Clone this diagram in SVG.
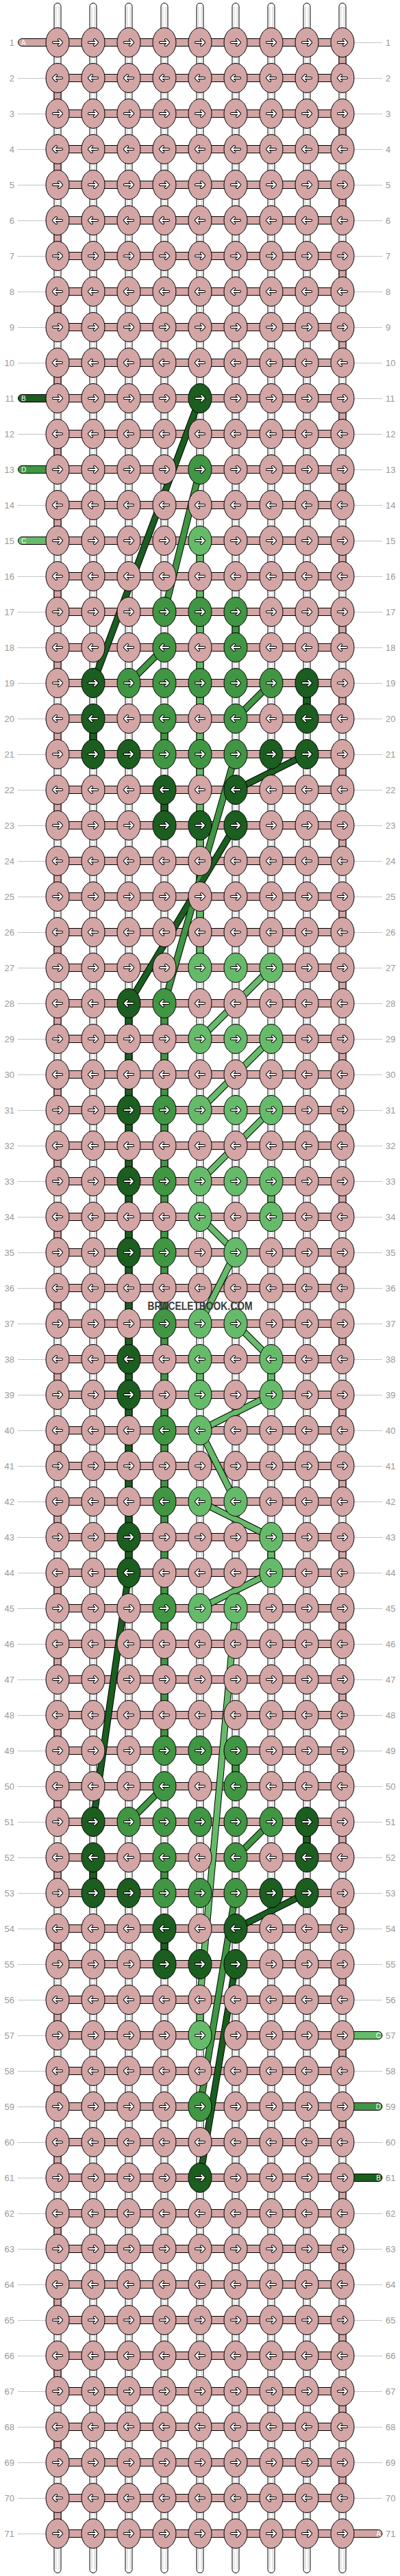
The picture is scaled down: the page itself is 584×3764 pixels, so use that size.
<svg xmlns="http://www.w3.org/2000/svg" width="584" height="3764" viewBox="0 0 584 3764">
<style>
.p{fill:#d4a5a5}.d{fill:#1b5e20}.m{fill:#409643}.l{fill:#66bb6a}
text.n{font-family:"Liberation Sans",Arial,sans-serif;font-size:13px;fill:#999}
text.s{font-family:"Liberation Sans",Arial,sans-serif;font-size:10px;fill:#fff}
.nl{text-anchor:end}
</style>
<defs>
<ellipse id="e" rx="17" ry="21.5" stroke="#000" stroke-width="1"/>
<path id="ah" d="M-6,0H6M2,-4L6,0L2,4"/>
<g id="R"><use href="#e"/><use href="#ah" fill="none" stroke="#000" stroke-width="4" stroke-linecap="round" stroke-linejoin="round"/><use href="#ah" fill="none" stroke="#fff" stroke-width="2" stroke-linecap="round" stroke-linejoin="round"/></g>
<g id="L"><use href="#e"/><g transform="scale(-1,1)"><use href="#ah" fill="none" stroke="#000" stroke-width="4" stroke-linecap="round" stroke-linejoin="round"/><use href="#ah" fill="none" stroke="#fff" stroke-width="2" stroke-linecap="round" stroke-linejoin="round"/></g></g>
<rect id="c" x="-5" y="18" width="10" height="16" stroke="#000" stroke-width="1"/>
<rect id="hb" x="84" y="-5.5" width="416" height="11" fill="#d4a5a5" stroke="#000" stroke-width="1"/>
</defs>
<rect width="584" height="3764" fill="#fff"/>
<g id="guides" stroke="#c4c4c4" stroke-width="1" fill="none">
<path d="M26,114.5H67M26,166.5H67M26,218.5H67M26,270.5H67M26,322.5H67M26,374.5H67M26,426.5H67M26,478.5H67M26,530.5H67M26,634.5H67M26,738.5H67M26,842.5H67M26,894.5H67M26,946.5H67M26,998.5H67M26,1050.5H67M26,1102.5H67M26,1154.5H67M26,1206.5H67M26,1258.5H67M26,1310.5H67M26,1362.5H67M26,1414.5H67M26,1466.5H67M26,1518.5H67M26,1570.5H67M26,1622.5H67M26,1674.5H67M26,1726.5H67M26,1778.5H67M26,1830.5H67M26,1882.5H67M26,1934.5H67M26,1986.5H67M26,2038.5H67M26,2090.5H67M26,2142.5H67M26,2194.5H67M26,2246.5H67M26,2298.5H67M26,2350.5H67M26,2402.5H67M26,2454.5H67M26,2506.5H67M26,2558.5H67M26,2610.5H67M26,2662.5H67M26,2714.5H67M26,2766.5H67M26,2818.5H67M26,2870.5H67M26,2922.5H67M26,2974.5H67M26,3026.5H67M26,3078.5H67M26,3130.5H67M26,3182.5H67M26,3234.5H67M26,3286.5H67M26,3338.5H67M26,3390.5H67M26,3442.5H67M26,3494.5H67M26,3546.5H67M26,3598.5H67M26,3650.5H67M26,3702.5H67"/>
<path d="M517,62.5H558M517,114.5H558M517,166.5H558M517,218.5H558M517,270.5H558M517,322.5H558M517,374.5H558M517,426.5H558M517,478.5H558M517,530.5H558M517,582.5H558M517,634.5H558M517,686.5H558M517,738.5H558M517,790.5H558M517,842.5H558M517,894.5H558M517,946.5H558M517,998.5H558M517,1050.5H558M517,1102.5H558M517,1154.5H558M517,1206.5H558M517,1258.5H558M517,1310.5H558M517,1362.5H558M517,1414.5H558M517,1466.5H558M517,1518.5H558M517,1570.5H558M517,1622.5H558M517,1674.5H558M517,1726.5H558M517,1778.5H558M517,1830.5H558M517,1882.5H558M517,1934.5H558M517,1986.5H558M517,2038.5H558M517,2090.5H558M517,2142.5H558M517,2194.5H558M517,2246.5H558M517,2298.5H558M517,2350.5H558M517,2402.5H558M517,2454.5H558M517,2506.5H558M517,2558.5H558M517,2610.5H558M517,2662.5H558M517,2714.5H558M517,2766.5H558M517,2818.5H558M517,2870.5H558M517,2922.5H558M517,3026.5H558M517,3130.5H558M517,3234.5H558M517,3286.5H558M517,3338.5H558M517,3390.5H558M517,3442.5H558M517,3494.5H558M517,3546.5H558M517,3598.5H558M517,3650.5H558"/>
</g>
<g id="labels-left" class="lab">
<text class="n nl" x="21" y="66.5">1</text><text class="n nl" x="21" y="118.5">2</text><text class="n nl" x="21" y="170.5">3</text><text class="n nl" x="21" y="222.5">4</text><text class="n nl" x="21" y="274.5">5</text><text class="n nl" x="21" y="326.5">6</text><text class="n nl" x="21" y="378.5">7</text><text class="n nl" x="21" y="430.5">8</text><text class="n nl" x="21" y="482.5">9</text><text class="n nl" x="21" y="534.5">10</text><text class="n nl" x="21" y="586.5">11</text><text class="n nl" x="21" y="638.5">12</text><text class="n nl" x="21" y="690.5">13</text><text class="n nl" x="21" y="742.5">14</text><text class="n nl" x="21" y="794.5">15</text><text class="n nl" x="21" y="846.5">16</text><text class="n nl" x="21" y="898.5">17</text><text class="n nl" x="21" y="950.5">18</text><text class="n nl" x="21" y="1002.5">19</text><text class="n nl" x="21" y="1054.5">20</text><text class="n nl" x="21" y="1106.5">21</text><text class="n nl" x="21" y="1158.5">22</text><text class="n nl" x="21" y="1210.5">23</text><text class="n nl" x="21" y="1262.5">24</text><text class="n nl" x="21" y="1314.5">25</text><text class="n nl" x="21" y="1366.5">26</text><text class="n nl" x="21" y="1418.5">27</text><text class="n nl" x="21" y="1470.5">28</text><text class="n nl" x="21" y="1522.5">29</text><text class="n nl" x="21" y="1574.5">30</text><text class="n nl" x="21" y="1626.5">31</text><text class="n nl" x="21" y="1678.5">32</text><text class="n nl" x="21" y="1730.5">33</text><text class="n nl" x="21" y="1782.5">34</text><text class="n nl" x="21" y="1834.5">35</text><text class="n nl" x="21" y="1886.5">36</text><text class="n nl" x="21" y="1938.5">37</text><text class="n nl" x="21" y="1990.5">38</text><text class="n nl" x="21" y="2042.5">39</text><text class="n nl" x="21" y="2094.5">40</text><text class="n nl" x="21" y="2146.5">41</text><text class="n nl" x="21" y="2198.5">42</text><text class="n nl" x="21" y="2250.5">43</text><text class="n nl" x="21" y="2302.5">44</text><text class="n nl" x="21" y="2354.5">45</text><text class="n nl" x="21" y="2406.5">46</text><text class="n nl" x="21" y="2458.5">47</text><text class="n nl" x="21" y="2510.5">48</text><text class="n nl" x="21" y="2562.5">49</text><text class="n nl" x="21" y="2614.5">50</text><text class="n nl" x="21" y="2666.5">51</text><text class="n nl" x="21" y="2718.5">52</text><text class="n nl" x="21" y="2770.5">53</text><text class="n nl" x="21" y="2822.5">54</text><text class="n nl" x="21" y="2874.5">55</text><text class="n nl" x="21" y="2926.5">56</text><text class="n nl" x="21" y="2978.5">57</text><text class="n nl" x="21" y="3030.5">58</text><text class="n nl" x="21" y="3082.5">59</text><text class="n nl" x="21" y="3134.5">60</text><text class="n nl" x="21" y="3186.5">61</text><text class="n nl" x="21" y="3238.5">62</text><text class="n nl" x="21" y="3290.5">63</text><text class="n nl" x="21" y="3342.5">64</text><text class="n nl" x="21" y="3394.5">65</text><text class="n nl" x="21" y="3446.5">66</text><text class="n nl" x="21" y="3498.5">67</text><text class="n nl" x="21" y="3550.5">68</text><text class="n nl" x="21" y="3602.5">69</text><text class="n nl" x="21" y="3654.5">70</text><text class="n nl" x="21" y="3706.5">71</text>
</g>
<g id="labels-right">
<text class="n" x="563" y="66.5">1</text><text class="n" x="563" y="118.5">2</text><text class="n" x="563" y="170.5">3</text><text class="n" x="563" y="222.5">4</text><text class="n" x="563" y="274.5">5</text><text class="n" x="563" y="326.5">6</text><text class="n" x="563" y="378.5">7</text><text class="n" x="563" y="430.5">8</text><text class="n" x="563" y="482.5">9</text><text class="n" x="563" y="534.5">10</text><text class="n" x="563" y="586.5">11</text><text class="n" x="563" y="638.5">12</text><text class="n" x="563" y="690.5">13</text><text class="n" x="563" y="742.5">14</text><text class="n" x="563" y="794.5">15</text><text class="n" x="563" y="846.5">16</text><text class="n" x="563" y="898.5">17</text><text class="n" x="563" y="950.5">18</text><text class="n" x="563" y="1002.5">19</text><text class="n" x="563" y="1054.5">20</text><text class="n" x="563" y="1106.5">21</text><text class="n" x="563" y="1158.5">22</text><text class="n" x="563" y="1210.5">23</text><text class="n" x="563" y="1262.5">24</text><text class="n" x="563" y="1314.5">25</text><text class="n" x="563" y="1366.5">26</text><text class="n" x="563" y="1418.5">27</text><text class="n" x="563" y="1470.5">28</text><text class="n" x="563" y="1522.5">29</text><text class="n" x="563" y="1574.5">30</text><text class="n" x="563" y="1626.5">31</text><text class="n" x="563" y="1678.5">32</text><text class="n" x="563" y="1730.5">33</text><text class="n" x="563" y="1782.5">34</text><text class="n" x="563" y="1834.5">35</text><text class="n" x="563" y="1886.5">36</text><text class="n" x="563" y="1938.5">37</text><text class="n" x="563" y="1990.5">38</text><text class="n" x="563" y="2042.5">39</text><text class="n" x="563" y="2094.5">40</text><text class="n" x="563" y="2146.5">41</text><text class="n" x="563" y="2198.5">42</text><text class="n" x="563" y="2250.5">43</text><text class="n" x="563" y="2302.5">44</text><text class="n" x="563" y="2354.5">45</text><text class="n" x="563" y="2406.5">46</text><text class="n" x="563" y="2458.5">47</text><text class="n" x="563" y="2510.5">48</text><text class="n" x="563" y="2562.5">49</text><text class="n" x="563" y="2614.5">50</text><text class="n" x="563" y="2666.5">51</text><text class="n" x="563" y="2718.5">52</text><text class="n" x="563" y="2770.5">53</text><text class="n" x="563" y="2822.5">54</text><text class="n" x="563" y="2874.5">55</text><text class="n" x="563" y="2926.5">56</text><text class="n" x="563" y="2978.5">57</text><text class="n" x="563" y="3030.5">58</text><text class="n" x="563" y="3082.5">59</text><text class="n" x="563" y="3134.5">60</text><text class="n" x="563" y="3186.5">61</text><text class="n" x="563" y="3238.5">62</text><text class="n" x="563" y="3290.5">63</text><text class="n" x="563" y="3342.5">64</text><text class="n" x="563" y="3394.5">65</text><text class="n" x="563" y="3446.5">66</text><text class="n" x="563" y="3498.5">67</text><text class="n" x="563" y="3550.5">68</text><text class="n" x="563" y="3602.5">69</text><text class="n" x="563" y="3654.5">70</text><text class="n" x="563" y="3706.5">71</text>
</g>
<g id="connectors">
<g id="vertical-threads" fill="#fff" stroke="#000" stroke-width="1">
<rect x="79" y="4.5" width="10" height="3755" rx="5"/><rect x="131" y="4.5" width="10" height="3755" rx="5"/><rect x="183" y="4.5" width="10" height="3755" rx="5"/><rect x="235" y="4.5" width="10" height="3755" rx="5"/><rect x="287" y="4.5" width="10" height="3755" rx="5"/><rect x="339" y="4.5" width="10" height="3755" rx="5"/><rect x="391" y="4.5" width="10" height="3755" rx="5"/><rect x="443" y="4.5" width="10" height="3755" rx="5"/><rect x="495" y="4.5" width="10" height="3755" rx="5"/>
<path stroke="#c8c8c8" fill="none" d="M81.8,10V3754M86.2,10V3754M133.8,10V3754M138.2,10V3754M185.8,10V3754M190.2,10V3754M237.8,10V3754M242.2,10V3754M289.8,10V3754M294.2,10V3754M341.8,10V3754M346.2,10V3754M393.8,10V3754M398.2,10V3754M445.8,10V3754M450.2,10V3754M497.8,10V3754M502.2,10V3754"/>
</g>
<g id="edge-turns" class="p">
<use href="#c" x="500" y="62"/><use href="#c" x="84" y="114"/><use href="#c" x="500" y="166"/><use href="#c" x="84" y="218"/><use href="#c" x="500" y="270"/><use href="#c" x="84" y="322"/><use href="#c" x="500" y="374"/><use href="#c" x="84" y="426"/><use href="#c" x="500" y="478"/><use href="#c" x="84" y="530"/><use href="#c" x="500" y="582"/><use href="#c" x="84" y="634"/><use href="#c" x="500" y="686"/><use href="#c" x="84" y="738"/><use href="#c" x="500" y="790"/><use href="#c" x="84" y="842"/><use href="#c" x="500" y="894"/><use href="#c" x="84" y="946"/><use href="#c" x="500" y="998"/><use href="#c" x="84" y="1050"/><use href="#c" x="500" y="1102"/><use href="#c" x="84" y="1154"/><use href="#c" x="500" y="1206"/><use href="#c" x="84" y="1258"/><use href="#c" x="500" y="1310"/><use href="#c" x="84" y="1362"/><use href="#c" x="500" y="1414"/><use href="#c" x="84" y="1466"/><use href="#c" x="500" y="1518"/><use href="#c" x="84" y="1570"/><use href="#c" x="500" y="1622"/><use href="#c" x="84" y="1674"/><use href="#c" x="500" y="1726"/><use href="#c" x="84" y="1778"/><use href="#c" x="500" y="1830"/><use href="#c" x="84" y="1882"/><use href="#c" x="500" y="1934"/><use href="#c" x="84" y="1986"/><use href="#c" x="500" y="2038"/><use href="#c" x="84" y="2090"/><use href="#c" x="500" y="2142"/><use href="#c" x="84" y="2194"/><use href="#c" x="500" y="2246"/><use href="#c" x="84" y="2298"/><use href="#c" x="500" y="2350"/><use href="#c" x="84" y="2402"/><use href="#c" x="500" y="2454"/><use href="#c" x="84" y="2506"/><use href="#c" x="500" y="2558"/><use href="#c" x="84" y="2610"/><use href="#c" x="500" y="2662"/><use href="#c" x="84" y="2714"/><use href="#c" x="500" y="2766"/><use href="#c" x="84" y="2818"/><use href="#c" x="500" y="2870"/><use href="#c" x="84" y="2922"/><use href="#c" x="500" y="2974"/><use href="#c" x="84" y="3026"/><use href="#c" x="500" y="3078"/><use href="#c" x="84" y="3130"/><use href="#c" x="500" y="3182"/><use href="#c" x="84" y="3234"/><use href="#c" x="500" y="3286"/><use href="#c" x="84" y="3338"/><use href="#c" x="500" y="3390"/><use href="#c" x="84" y="3442"/><use href="#c" x="500" y="3494"/><use href="#c" x="84" y="3546"/><use href="#c" x="500" y="3598"/><use href="#c" x="84" y="3650"/>
</g>
<g id="light-links" class="l">
<use href="#c" x="292" y="790"/><use href="#c" x="292" y="842"/><use href="#c" x="292" y="894"/><use href="#c" x="292" y="946"/><use href="#c" x="292" y="998"/><use href="#c" x="292" y="1050"/><use href="#c" x="292" y="1102"/><use href="#c" x="292" y="1154"/><use href="#c" x="292" y="1206"/><use href="#c" x="292" y="1258"/><use href="#c" x="292" y="1310"/><use href="#c" x="292" y="1362"/><use href="#c" x="292" y="1986"/><use href="#c" x="292" y="2922"/>
<use href="#c" x="396" y="1726"/><use href="#c" x="396" y="1986"/><use href="#c" x="396" y="2246"/>
</g>
<g id="medium-links" class="m">
<use href="#c" x="240" y="1050"/><use href="#c" x="240" y="1466"/><use href="#c" x="240" y="1518"/><use href="#c" x="240" y="1570"/><use href="#c" x="240" y="1622"/><use href="#c" x="240" y="1674"/><use href="#c" x="240" y="1726"/><use href="#c" x="240" y="1778"/><use href="#c" x="240" y="1830"/><use href="#c" x="240" y="1882"/><use href="#c" x="240" y="1934"/><use href="#c" x="240" y="1986"/><use href="#c" x="240" y="2038"/><use href="#c" x="240" y="2090"/><use href="#c" x="240" y="2142"/><use href="#c" x="240" y="2194"/><use href="#c" x="240" y="2246"/><use href="#c" x="240" y="2298"/><use href="#c" x="240" y="2350"/><use href="#c" x="240" y="2402"/><use href="#c" x="240" y="2454"/><use href="#c" x="240" y="2506"/><use href="#c" x="240" y="2714"/>
<use href="#c" x="344" y="894"/><use href="#c" x="344" y="2558"/>
</g>
<g id="dark-links" class="d">
<use href="#c" x="136" y="1050"/><use href="#c" x="136" y="2714"/><use href="#c" x="448" y="998"/><use href="#c" x="448" y="2662"/><use href="#c" x="240" y="1154"/><use href="#c" x="240" y="2818"/>
<use href="#c" x="188" y="1466"/><use href="#c" x="188" y="1518"/><use href="#c" x="188" y="1570"/><use href="#c" x="188" y="1622"/><use href="#c" x="188" y="1674"/><use href="#c" x="188" y="1726"/><use href="#c" x="188" y="1778"/><use href="#c" x="188" y="1830"/><use href="#c" x="188" y="1882"/><use href="#c" x="188" y="1934"/><use href="#c" x="188" y="1986"/><use href="#c" x="188" y="2038"/><use href="#c" x="188" y="2090"/><use href="#c" x="188" y="2142"/><use href="#c" x="188" y="2194"/><use href="#c" x="188" y="2246"/>
</g>
<g id="row-threads">
<use href="#hb" y="62"/><use href="#hb" y="114"/><use href="#hb" y="166"/><use href="#hb" y="218"/><use href="#hb" y="270"/><use href="#hb" y="322"/><use href="#hb" y="374"/><use href="#hb" y="426"/><use href="#hb" y="478"/><use href="#hb" y="530"/><use href="#hb" y="582"/><use href="#hb" y="634"/><use href="#hb" y="686"/><use href="#hb" y="738"/><use href="#hb" y="790"/><use href="#hb" y="842"/><use href="#hb" y="894"/><use href="#hb" y="946"/><use href="#hb" y="998"/><use href="#hb" y="1050"/><use href="#hb" y="1102"/><use href="#hb" y="1154"/><use href="#hb" y="1206"/><use href="#hb" y="1258"/><use href="#hb" y="1310"/><use href="#hb" y="1362"/><use href="#hb" y="1414"/><use href="#hb" y="1466"/><use href="#hb" y="1518"/><use href="#hb" y="1570"/><use href="#hb" y="1622"/><use href="#hb" y="1674"/><use href="#hb" y="1726"/><use href="#hb" y="1778"/><use href="#hb" y="1830"/><use href="#hb" y="1882"/><use href="#hb" y="1934"/><use href="#hb" y="1986"/><use href="#hb" y="2038"/><use href="#hb" y="2090"/><use href="#hb" y="2142"/><use href="#hb" y="2194"/><use href="#hb" y="2246"/><use href="#hb" y="2298"/><use href="#hb" y="2350"/><use href="#hb" y="2402"/><use href="#hb" y="2454"/><use href="#hb" y="2506"/><use href="#hb" y="2558"/><use href="#hb" y="2610"/><use href="#hb" y="2662"/><use href="#hb" y="2714"/><use href="#hb" y="2766"/><use href="#hb" y="2818"/><use href="#hb" y="2870"/><use href="#hb" y="2922"/><use href="#hb" y="2974"/><use href="#hb" y="3026"/><use href="#hb" y="3078"/><use href="#hb" y="3130"/><use href="#hb" y="3182"/><use href="#hb" y="3234"/><use href="#hb" y="3286"/><use href="#hb" y="3338"/><use href="#hb" y="3390"/><use href="#hb" y="3442"/><use href="#hb" y="3494"/><use href="#hb" y="3546"/><use href="#hb" y="3598"/><use href="#hb" y="3650"/><use href="#hb" y="3702"/>
</g>
<g id="ends" stroke="#000" stroke-width="1">
<rect class="p" x="26.5" y="56.5" width="70" height="11" rx="5.5"/>
<rect class="d" x="26.5" y="576.5" width="70" height="11" rx="5.5"/>
<rect class="m" x="26.5" y="680.5" width="70" height="11" rx="5.5"/>
<rect class="l" x="26.5" y="784.5" width="70" height="11" rx="5.5"/>
<rect class="l" x="487.5" y="2968.5" width="70.5" height="11" rx="5.5"/>
<rect class="m" x="487.5" y="3072.5" width="70.5" height="11" rx="5.5"/>
<rect class="d" x="487.5" y="3176.5" width="70.5" height="11" rx="5.5"/>
<rect class="p" x="487.5" y="3696.5" width="70.5" height="11" rx="5.5"/>
</g>
<g id="end-letters">
<text class="s" x="31" y="65.7">A</text><text class="s" x="31" y="585.7">B</text><text class="s" x="31" y="689.7">D</text><text class="s" x="31" y="793.7">C</text>
<text class="s nl" x="556" y="2977.7">C</text><text class="s nl" x="556" y="3081.7">D</text><text class="s nl" x="556" y="3185.7">B</text><text class="s nl" x="556" y="3705.7">A</text>
</g>
<g id="diagonals" fill="none" stroke-linecap="butt" stroke-linejoin="round">
<path stroke="#000" stroke-width="10" d="M292,582L136,998M448,1102L344,1154M344,1206L188,1466M188,2298L136,2662M448,2766L344,2818M344,2870L292,3182M292,686L240,894M240,946L188,998M396,998L344,1050M344,1102L240,1466M240,2610L188,2662M396,2662L344,2714M344,2766L292,3078M396,1414L292,1518M396,1518L292,1622M396,1622L292,1726M292,1778L344,1830L292,1934M344,1934L396,1986M396,2038L292,2090L344,2194M292,2194L396,2246M396,2298L292,2350M344,2350L292,2922"/>
<path stroke="#66bb6a" stroke-width="8" d="M396,1414L292,1518M396,1518L292,1622M396,1622L292,1726M292,1778L344,1830L292,1934M344,1934L396,1986M396,2038L292,2090L344,2194M292,2194L396,2246M396,2298L292,2350M344,2350L292,2922"/>
<path stroke="#409643" stroke-width="8" d="M292,686L240,894M240,946L188,998M396,998L344,1050M344,1102L240,1466M240,2610L188,2662M396,2662L344,2714M344,2766L292,3078"/>
<path stroke="#1b5e20" stroke-width="8" d="M292,582L136,998M448,1102L344,1154M344,1206L188,1466M188,2298L136,2662M448,2766L344,2818M344,2870L292,3182"/>
</g>
</g>
<g id="knots" class="p">
<g id="row1" transform="translate(0,62)"><use id="k1-1" href="#R" x="84"/><use id="k1-2" href="#R" x="136"/><use id="k1-3" href="#R" x="188"/><use id="k1-4" href="#R" x="240"/><use id="k1-5" href="#R" x="292"/><use id="k1-6" href="#R" x="344"/><use id="k1-7" href="#R" x="396"/><use id="k1-8" href="#R" x="448"/><use id="k1-9" href="#R" x="500"/></g>
<g id="row2" transform="translate(0,114)"><use id="k2-1" href="#L" x="84"/><use id="k2-2" href="#L" x="136"/><use id="k2-3" href="#L" x="188"/><use id="k2-4" href="#L" x="240"/><use id="k2-5" href="#L" x="292"/><use id="k2-6" href="#L" x="344"/><use id="k2-7" href="#L" x="396"/><use id="k2-8" href="#L" x="448"/><use id="k2-9" href="#L" x="500"/></g>
<g id="row3" transform="translate(0,166)"><use id="k3-1" href="#R" x="84"/><use id="k3-2" href="#R" x="136"/><use id="k3-3" href="#R" x="188"/><use id="k3-4" href="#R" x="240"/><use id="k3-5" href="#R" x="292"/><use id="k3-6" href="#R" x="344"/><use id="k3-7" href="#R" x="396"/><use id="k3-8" href="#R" x="448"/><use id="k3-9" href="#R" x="500"/></g>
<g id="row4" transform="translate(0,218)"><use id="k4-1" href="#L" x="84"/><use id="k4-2" href="#L" x="136"/><use id="k4-3" href="#L" x="188"/><use id="k4-4" href="#L" x="240"/><use id="k4-5" href="#L" x="292"/><use id="k4-6" href="#L" x="344"/><use id="k4-7" href="#L" x="396"/><use id="k4-8" href="#L" x="448"/><use id="k4-9" href="#L" x="500"/></g>
<g id="row5" transform="translate(0,270)"><use id="k5-1" href="#R" x="84"/><use id="k5-2" href="#R" x="136"/><use id="k5-3" href="#R" x="188"/><use id="k5-4" href="#R" x="240"/><use id="k5-5" href="#R" x="292"/><use id="k5-6" href="#R" x="344"/><use id="k5-7" href="#R" x="396"/><use id="k5-8" href="#R" x="448"/><use id="k5-9" href="#R" x="500"/></g>
<g id="row6" transform="translate(0,322)"><use id="k6-1" href="#L" x="84"/><use id="k6-2" href="#L" x="136"/><use id="k6-3" href="#L" x="188"/><use id="k6-4" href="#L" x="240"/><use id="k6-5" href="#L" x="292"/><use id="k6-6" href="#L" x="344"/><use id="k6-7" href="#L" x="396"/><use id="k6-8" href="#L" x="448"/><use id="k6-9" href="#L" x="500"/></g>
<g id="row7" transform="translate(0,374)"><use id="k7-1" href="#R" x="84"/><use id="k7-2" href="#R" x="136"/><use id="k7-3" href="#R" x="188"/><use id="k7-4" href="#R" x="240"/><use id="k7-5" href="#R" x="292"/><use id="k7-6" href="#R" x="344"/><use id="k7-7" href="#R" x="396"/><use id="k7-8" href="#R" x="448"/><use id="k7-9" href="#R" x="500"/></g>
<g id="row8" transform="translate(0,426)"><use id="k8-1" href="#L" x="84"/><use id="k8-2" href="#L" x="136"/><use id="k8-3" href="#L" x="188"/><use id="k8-4" href="#L" x="240"/><use id="k8-5" href="#L" x="292"/><use id="k8-6" href="#L" x="344"/><use id="k8-7" href="#L" x="396"/><use id="k8-8" href="#L" x="448"/><use id="k8-9" href="#L" x="500"/></g>
<g id="row9" transform="translate(0,478)"><use id="k9-1" href="#R" x="84"/><use id="k9-2" href="#R" x="136"/><use id="k9-3" href="#R" x="188"/><use id="k9-4" href="#R" x="240"/><use id="k9-5" href="#R" x="292"/><use id="k9-6" href="#R" x="344"/><use id="k9-7" href="#R" x="396"/><use id="k9-8" href="#R" x="448"/><use id="k9-9" href="#R" x="500"/></g>
<g id="row10" transform="translate(0,530)"><use id="k10-1" href="#L" x="84"/><use id="k10-2" href="#L" x="136"/><use id="k10-3" href="#L" x="188"/><use id="k10-4" href="#L" x="240"/><use id="k10-5" href="#L" x="292"/><use id="k10-6" href="#L" x="344"/><use id="k10-7" href="#L" x="396"/><use id="k10-8" href="#L" x="448"/><use id="k10-9" href="#L" x="500"/></g>
<g id="row11" transform="translate(0,582)"><use id="k11-1" href="#R" x="84"/><use id="k11-2" href="#R" x="136"/><use id="k11-3" href="#R" x="188"/><use id="k11-4" href="#R" x="240"/><use id="k11-5" href="#R" x="292" class="d"/><use id="k11-6" href="#R" x="344"/><use id="k11-7" href="#R" x="396"/><use id="k11-8" href="#R" x="448"/><use id="k11-9" href="#R" x="500"/></g>
<g id="row12" transform="translate(0,634)"><use id="k12-1" href="#L" x="84"/><use id="k12-2" href="#L" x="136"/><use id="k12-3" href="#L" x="188"/><use id="k12-4" href="#L" x="240"/><use id="k12-5" href="#L" x="292"/><use id="k12-6" href="#L" x="344"/><use id="k12-7" href="#L" x="396"/><use id="k12-8" href="#L" x="448"/><use id="k12-9" href="#L" x="500"/></g>
<g id="row13" transform="translate(0,686)"><use id="k13-1" href="#R" x="84"/><use id="k13-2" href="#R" x="136"/><use id="k13-3" href="#R" x="188"/><use id="k13-4" href="#R" x="240"/><use id="k13-5" href="#R" x="292" class="m"/><use id="k13-6" href="#R" x="344"/><use id="k13-7" href="#R" x="396"/><use id="k13-8" href="#R" x="448"/><use id="k13-9" href="#R" x="500"/></g>
<g id="row14" transform="translate(0,738)"><use id="k14-1" href="#L" x="84"/><use id="k14-2" href="#L" x="136"/><use id="k14-3" href="#L" x="188"/><use id="k14-4" href="#L" x="240"/><use id="k14-5" href="#L" x="292"/><use id="k14-6" href="#L" x="344"/><use id="k14-7" href="#L" x="396"/><use id="k14-8" href="#L" x="448"/><use id="k14-9" href="#L" x="500"/></g>
<g id="row15" transform="translate(0,790)"><use id="k15-1" href="#R" x="84"/><use id="k15-2" href="#R" x="136"/><use id="k15-3" href="#R" x="188"/><use id="k15-4" href="#R" x="240"/><use id="k15-5" href="#R" x="292" class="l"/><use id="k15-6" href="#R" x="344"/><use id="k15-7" href="#R" x="396"/><use id="k15-8" href="#R" x="448"/><use id="k15-9" href="#R" x="500"/></g>
<g id="row16" transform="translate(0,842)"><use id="k16-1" href="#L" x="84"/><use id="k16-2" href="#L" x="136"/><use id="k16-3" href="#L" x="188"/><use id="k16-4" href="#L" x="240"/><use id="k16-5" href="#L" x="292"/><use id="k16-6" href="#L" x="344"/><use id="k16-7" href="#L" x="396"/><use id="k16-8" href="#L" x="448"/><use id="k16-9" href="#L" x="500"/></g>
<g id="row17" transform="translate(0,894)"><use id="k17-1" href="#R" x="84"/><use id="k17-2" href="#R" x="136"/><use id="k17-3" href="#R" x="188"/><use id="k17-4" href="#R" x="240" class="m"/><use id="k17-5" href="#R" x="292" class="m"/><use id="k17-6" href="#R" x="344" class="m"/><use id="k17-7" href="#R" x="396"/><use id="k17-8" href="#R" x="448"/><use id="k17-9" href="#R" x="500"/></g>
<g id="row18" transform="translate(0,946)"><use id="k18-1" href="#L" x="84"/><use id="k18-2" href="#L" x="136"/><use id="k18-3" href="#L" x="188"/><use id="k18-4" href="#L" x="240" class="m"/><use id="k18-5" href="#L" x="292"/><use id="k18-6" href="#L" x="344" class="m"/><use id="k18-7" href="#L" x="396"/><use id="k18-8" href="#L" x="448"/><use id="k18-9" href="#L" x="500"/></g>
<g id="row19" transform="translate(0,998)"><use id="k19-1" href="#R" x="84"/><use id="k19-2" href="#R" x="136" class="d"/><use id="k19-3" href="#R" x="188" class="m"/><use id="k19-4" href="#R" x="240" class="m"/><use id="k19-5" href="#R" x="292" class="m"/><use id="k19-6" href="#R" x="344" class="m"/><use id="k19-7" href="#R" x="396" class="m"/><use id="k19-8" href="#R" x="448" class="d"/><use id="k19-9" href="#R" x="500"/></g>
<g id="row20" transform="translate(0,1050)"><use id="k20-1" href="#L" x="84"/><use id="k20-2" href="#L" x="136" class="d"/><use id="k20-3" href="#L" x="188"/><use id="k20-4" href="#L" x="240" class="m"/><use id="k20-5" href="#L" x="292"/><use id="k20-6" href="#L" x="344" class="m"/><use id="k20-7" href="#L" x="396"/><use id="k20-8" href="#L" x="448" class="d"/><use id="k20-9" href="#L" x="500"/></g>
<g id="row21" transform="translate(0,1102)"><use id="k21-1" href="#R" x="84"/><use id="k21-2" href="#R" x="136" class="d"/><use id="k21-3" href="#R" x="188" class="d"/><use id="k21-4" href="#R" x="240" class="m"/><use id="k21-5" href="#R" x="292" class="m"/><use id="k21-6" href="#R" x="344" class="m"/><use id="k21-7" href="#R" x="396" class="d"/><use id="k21-8" href="#R" x="448" class="d"/><use id="k21-9" href="#R" x="500"/></g>
<g id="row22" transform="translate(0,1154)"><use id="k22-1" href="#L" x="84"/><use id="k22-2" href="#L" x="136"/><use id="k22-3" href="#L" x="188"/><use id="k22-4" href="#L" x="240" class="d"/><use id="k22-5" href="#L" x="292"/><use id="k22-6" href="#L" x="344" class="d"/><use id="k22-7" href="#L" x="396"/><use id="k22-8" href="#L" x="448"/><use id="k22-9" href="#L" x="500"/></g>
<g id="row23" transform="translate(0,1206)"><use id="k23-1" href="#R" x="84"/><use id="k23-2" href="#R" x="136"/><use id="k23-3" href="#R" x="188"/><use id="k23-4" href="#R" x="240" class="d"/><use id="k23-5" href="#R" x="292" class="d"/><use id="k23-6" href="#R" x="344" class="d"/><use id="k23-7" href="#R" x="396"/><use id="k23-8" href="#R" x="448"/><use id="k23-9" href="#R" x="500"/></g>
<g id="row24" transform="translate(0,1258)"><use id="k24-1" href="#L" x="84"/><use id="k24-2" href="#L" x="136"/><use id="k24-3" href="#L" x="188"/><use id="k24-4" href="#L" x="240"/><use id="k24-5" href="#L" x="292"/><use id="k24-6" href="#L" x="344"/><use id="k24-7" href="#L" x="396"/><use id="k24-8" href="#L" x="448"/><use id="k24-9" href="#L" x="500"/></g>
<g id="row25" transform="translate(0,1310)"><use id="k25-1" href="#R" x="84"/><use id="k25-2" href="#R" x="136"/><use id="k25-3" href="#R" x="188"/><use id="k25-4" href="#R" x="240"/><use id="k25-5" href="#R" x="292"/><use id="k25-6" href="#R" x="344"/><use id="k25-7" href="#R" x="396"/><use id="k25-8" href="#R" x="448"/><use id="k25-9" href="#R" x="500"/></g>
<g id="row26" transform="translate(0,1362)"><use id="k26-1" href="#L" x="84"/><use id="k26-2" href="#L" x="136"/><use id="k26-3" href="#L" x="188"/><use id="k26-4" href="#L" x="240"/><use id="k26-5" href="#L" x="292"/><use id="k26-6" href="#L" x="344"/><use id="k26-7" href="#L" x="396"/><use id="k26-8" href="#L" x="448"/><use id="k26-9" href="#L" x="500"/></g>
<g id="row27" transform="translate(0,1414)"><use id="k27-1" href="#R" x="84"/><use id="k27-2" href="#R" x="136"/><use id="k27-3" href="#R" x="188"/><use id="k27-4" href="#R" x="240"/><use id="k27-5" href="#R" x="292" class="l"/><use id="k27-6" href="#R" x="344" class="l"/><use id="k27-7" href="#R" x="396" class="l"/><use id="k27-8" href="#R" x="448"/><use id="k27-9" href="#R" x="500"/></g>
<g id="row28" transform="translate(0,1466)"><use id="k28-1" href="#L" x="84"/><use id="k28-2" href="#L" x="136"/><use id="k28-3" href="#L" x="188" class="d"/><use id="k28-4" href="#L" x="240" class="m"/><use id="k28-5" href="#L" x="292"/><use id="k28-6" href="#L" x="344"/><use id="k28-7" href="#L" x="396"/><use id="k28-8" href="#L" x="448"/><use id="k28-9" href="#L" x="500"/></g>
<g id="row29" transform="translate(0,1518)"><use id="k29-1" href="#R" x="84"/><use id="k29-2" href="#R" x="136"/><use id="k29-3" href="#R" x="188"/><use id="k29-4" href="#R" x="240"/><use id="k29-5" href="#R" x="292" class="l"/><use id="k29-6" href="#R" x="344" class="l"/><use id="k29-7" href="#R" x="396" class="l"/><use id="k29-8" href="#R" x="448"/><use id="k29-9" href="#R" x="500"/></g>
<g id="row30" transform="translate(0,1570)"><use id="k30-1" href="#L" x="84"/><use id="k30-2" href="#L" x="136"/><use id="k30-3" href="#L" x="188"/><use id="k30-4" href="#L" x="240"/><use id="k30-5" href="#L" x="292"/><use id="k30-6" href="#L" x="344"/><use id="k30-7" href="#L" x="396"/><use id="k30-8" href="#L" x="448"/><use id="k30-9" href="#L" x="500"/></g>
<g id="row31" transform="translate(0,1622)"><use id="k31-1" href="#R" x="84"/><use id="k31-2" href="#R" x="136"/><use id="k31-3" href="#R" x="188" class="d"/><use id="k31-4" href="#R" x="240" class="m"/><use id="k31-5" href="#R" x="292" class="l"/><use id="k31-6" href="#R" x="344" class="l"/><use id="k31-7" href="#R" x="396" class="l"/><use id="k31-8" href="#R" x="448"/><use id="k31-9" href="#R" x="500"/></g>
<g id="row32" transform="translate(0,1674)"><use id="k32-1" href="#L" x="84"/><use id="k32-2" href="#L" x="136"/><use id="k32-3" href="#L" x="188"/><use id="k32-4" href="#L" x="240"/><use id="k32-5" href="#L" x="292"/><use id="k32-6" href="#L" x="344"/><use id="k32-7" href="#L" x="396"/><use id="k32-8" href="#L" x="448"/><use id="k32-9" href="#L" x="500"/></g>
<g id="row33" transform="translate(0,1726)"><use id="k33-1" href="#R" x="84"/><use id="k33-2" href="#R" x="136"/><use id="k33-3" href="#R" x="188" class="d"/><use id="k33-4" href="#R" x="240" class="m"/><use id="k33-5" href="#R" x="292" class="l"/><use id="k33-6" href="#R" x="344" class="l"/><use id="k33-7" href="#R" x="396" class="l"/><use id="k33-8" href="#R" x="448"/><use id="k33-9" href="#R" x="500"/></g>
<g id="row34" transform="translate(0,1778)"><use id="k34-1" href="#L" x="84"/><use id="k34-2" href="#L" x="136"/><use id="k34-3" href="#L" x="188"/><use id="k34-4" href="#L" x="240"/><use id="k34-5" href="#L" x="292" class="l"/><use id="k34-6" href="#L" x="344"/><use id="k34-7" href="#L" x="396" class="l"/><use id="k34-8" href="#L" x="448"/><use id="k34-9" href="#L" x="500"/></g>
<g id="row35" transform="translate(0,1830)"><use id="k35-1" href="#R" x="84"/><use id="k35-2" href="#R" x="136"/><use id="k35-3" href="#R" x="188" class="d"/><use id="k35-4" href="#R" x="240" class="m"/><use id="k35-5" href="#R" x="292"/><use id="k35-6" href="#R" x="344" class="l"/><use id="k35-7" href="#R" x="396"/><use id="k35-8" href="#R" x="448"/><use id="k35-9" href="#R" x="500"/></g>
<g id="row36" transform="translate(0,1882)"><use id="k36-1" href="#L" x="84"/><use id="k36-2" href="#L" x="136"/><use id="k36-3" href="#L" x="188"/><use id="k36-4" href="#L" x="240"/><use id="k36-5" href="#L" x="292"/><use id="k36-6" href="#L" x="344"/><use id="k36-7" href="#L" x="396"/><use id="k36-8" href="#L" x="448"/><use id="k36-9" href="#L" x="500"/></g>
<g id="row37" transform="translate(0,1934)"><use id="k37-1" href="#R" x="84"/><use id="k37-2" href="#R" x="136"/><use id="k37-3" href="#R" x="188"/><use id="k37-4" href="#R" x="240" class="m"/><use id="k37-5" href="#R" x="292" class="l"/><use id="k37-6" href="#R" x="344" class="l"/><use id="k37-7" href="#R" x="396"/><use id="k37-8" href="#R" x="448"/><use id="k37-9" href="#R" x="500"/></g>
<g id="row38" transform="translate(0,1986)"><use id="k38-1" href="#L" x="84"/><use id="k38-2" href="#L" x="136"/><use id="k38-3" href="#L" x="188" class="d"/><use id="k38-4" href="#L" x="240"/><use id="k38-5" href="#L" x="292" class="l"/><use id="k38-6" href="#L" x="344"/><use id="k38-7" href="#L" x="396" class="l"/><use id="k38-8" href="#L" x="448"/><use id="k38-9" href="#L" x="500"/></g>
<g id="row39" transform="translate(0,2038)"><use id="k39-1" href="#R" x="84"/><use id="k39-2" href="#R" x="136"/><use id="k39-3" href="#R" x="188" class="d"/><use id="k39-4" href="#R" x="240"/><use id="k39-5" href="#R" x="292" class="l"/><use id="k39-6" href="#R" x="344"/><use id="k39-7" href="#R" x="396" class="l"/><use id="k39-8" href="#R" x="448"/><use id="k39-9" href="#R" x="500"/></g>
<g id="row40" transform="translate(0,2090)"><use id="k40-1" href="#L" x="84"/><use id="k40-2" href="#L" x="136"/><use id="k40-3" href="#L" x="188"/><use id="k40-4" href="#L" x="240" class="m"/><use id="k40-5" href="#L" x="292" class="l"/><use id="k40-6" href="#L" x="344"/><use id="k40-7" href="#L" x="396"/><use id="k40-8" href="#L" x="448"/><use id="k40-9" href="#L" x="500"/></g>
<g id="row41" transform="translate(0,2142)"><use id="k41-1" href="#R" x="84"/><use id="k41-2" href="#R" x="136"/><use id="k41-3" href="#R" x="188"/><use id="k41-4" href="#R" x="240"/><use id="k41-5" href="#R" x="292"/><use id="k41-6" href="#R" x="344"/><use id="k41-7" href="#R" x="396"/><use id="k41-8" href="#R" x="448"/><use id="k41-9" href="#R" x="500"/></g>
<g id="row42" transform="translate(0,2194)"><use id="k42-1" href="#L" x="84"/><use id="k42-2" href="#L" x="136"/><use id="k42-3" href="#L" x="188"/><use id="k42-4" href="#L" x="240" class="m"/><use id="k42-5" href="#L" x="292" class="l"/><use id="k42-6" href="#L" x="344" class="l"/><use id="k42-7" href="#L" x="396"/><use id="k42-8" href="#L" x="448"/><use id="k42-9" href="#L" x="500"/></g>
<g id="row43" transform="translate(0,2246)"><use id="k43-1" href="#R" x="84"/><use id="k43-2" href="#R" x="136"/><use id="k43-3" href="#R" x="188" class="d"/><use id="k43-4" href="#R" x="240"/><use id="k43-5" href="#R" x="292"/><use id="k43-6" href="#R" x="344"/><use id="k43-7" href="#R" x="396" class="l"/><use id="k43-8" href="#R" x="448"/><use id="k43-9" href="#R" x="500"/></g>
<g id="row44" transform="translate(0,2298)"><use id="k44-1" href="#L" x="84"/><use id="k44-2" href="#L" x="136"/><use id="k44-3" href="#L" x="188" class="d"/><use id="k44-4" href="#L" x="240"/><use id="k44-5" href="#L" x="292"/><use id="k44-6" href="#L" x="344"/><use id="k44-7" href="#L" x="396" class="l"/><use id="k44-8" href="#L" x="448"/><use id="k44-9" href="#L" x="500"/></g>
<g id="row45" transform="translate(0,2350)"><use id="k45-1" href="#R" x="84"/><use id="k45-2" href="#R" x="136"/><use id="k45-3" href="#R" x="188"/><use id="k45-4" href="#R" x="240" class="m"/><use id="k45-5" href="#R" x="292" class="l"/><use id="k45-6" href="#R" x="344" class="l"/><use id="k45-7" href="#R" x="396"/><use id="k45-8" href="#R" x="448"/><use id="k45-9" href="#R" x="500"/></g>
<g id="row46" transform="translate(0,2402)"><use id="k46-1" href="#L" x="84"/><use id="k46-2" href="#L" x="136"/><use id="k46-3" href="#L" x="188"/><use id="k46-4" href="#L" x="240"/><use id="k46-5" href="#L" x="292"/><use id="k46-6" href="#L" x="344"/><use id="k46-7" href="#L" x="396"/><use id="k46-8" href="#L" x="448"/><use id="k46-9" href="#L" x="500"/></g>
<g id="row47" transform="translate(0,2454)"><use id="k47-1" href="#R" x="84"/><use id="k47-2" href="#R" x="136"/><use id="k47-3" href="#R" x="188"/><use id="k47-4" href="#R" x="240"/><use id="k47-5" href="#R" x="292"/><use id="k47-6" href="#R" x="344"/><use id="k47-7" href="#R" x="396"/><use id="k47-8" href="#R" x="448"/><use id="k47-9" href="#R" x="500"/></g>
<g id="row48" transform="translate(0,2506)"><use id="k48-1" href="#L" x="84"/><use id="k48-2" href="#L" x="136"/><use id="k48-3" href="#L" x="188"/><use id="k48-4" href="#L" x="240"/><use id="k48-5" href="#L" x="292"/><use id="k48-6" href="#L" x="344"/><use id="k48-7" href="#L" x="396"/><use id="k48-8" href="#L" x="448"/><use id="k48-9" href="#L" x="500"/></g>
<g id="row49" transform="translate(0,2558)"><use id="k49-1" href="#R" x="84"/><use id="k49-2" href="#R" x="136"/><use id="k49-3" href="#R" x="188"/><use id="k49-4" href="#R" x="240" class="m"/><use id="k49-5" href="#R" x="292" class="m"/><use id="k49-6" href="#R" x="344" class="m"/><use id="k49-7" href="#R" x="396"/><use id="k49-8" href="#R" x="448"/><use id="k49-9" href="#R" x="500"/></g>
<g id="row50" transform="translate(0,2610)"><use id="k50-1" href="#L" x="84"/><use id="k50-2" href="#L" x="136"/><use id="k50-3" href="#L" x="188"/><use id="k50-4" href="#L" x="240" class="m"/><use id="k50-5" href="#L" x="292"/><use id="k50-6" href="#L" x="344" class="m"/><use id="k50-7" href="#L" x="396"/><use id="k50-8" href="#L" x="448"/><use id="k50-9" href="#L" x="500"/></g>
<g id="row51" transform="translate(0,2662)"><use id="k51-1" href="#R" x="84"/><use id="k51-2" href="#R" x="136" class="d"/><use id="k51-3" href="#R" x="188" class="m"/><use id="k51-4" href="#R" x="240" class="m"/><use id="k51-5" href="#R" x="292" class="m"/><use id="k51-6" href="#R" x="344" class="m"/><use id="k51-7" href="#R" x="396" class="m"/><use id="k51-8" href="#R" x="448" class="d"/><use id="k51-9" href="#R" x="500"/></g>
<g id="row52" transform="translate(0,2714)"><use id="k52-1" href="#L" x="84"/><use id="k52-2" href="#L" x="136" class="d"/><use id="k52-3" href="#L" x="188"/><use id="k52-4" href="#L" x="240" class="m"/><use id="k52-5" href="#L" x="292"/><use id="k52-6" href="#L" x="344" class="m"/><use id="k52-7" href="#L" x="396"/><use id="k52-8" href="#L" x="448" class="d"/><use id="k52-9" href="#L" x="500"/></g>
<g id="row53" transform="translate(0,2766)"><use id="k53-1" href="#R" x="84"/><use id="k53-2" href="#R" x="136" class="d"/><use id="k53-3" href="#R" x="188" class="d"/><use id="k53-4" href="#R" x="240" class="m"/><use id="k53-5" href="#R" x="292" class="m"/><use id="k53-6" href="#R" x="344" class="m"/><use id="k53-7" href="#R" x="396" class="d"/><use id="k53-8" href="#R" x="448" class="d"/><use id="k53-9" href="#R" x="500"/></g>
<g id="row54" transform="translate(0,2818)"><use id="k54-1" href="#L" x="84"/><use id="k54-2" href="#L" x="136"/><use id="k54-3" href="#L" x="188"/><use id="k54-4" href="#L" x="240" class="d"/><use id="k54-5" href="#L" x="292"/><use id="k54-6" href="#L" x="344" class="d"/><use id="k54-7" href="#L" x="396"/><use id="k54-8" href="#L" x="448"/><use id="k54-9" href="#L" x="500"/></g>
<g id="row55" transform="translate(0,2870)"><use id="k55-1" href="#R" x="84"/><use id="k55-2" href="#R" x="136"/><use id="k55-3" href="#R" x="188"/><use id="k55-4" href="#R" x="240" class="d"/><use id="k55-5" href="#R" x="292" class="d"/><use id="k55-6" href="#R" x="344" class="d"/><use id="k55-7" href="#R" x="396"/><use id="k55-8" href="#R" x="448"/><use id="k55-9" href="#R" x="500"/></g>
<g id="row56" transform="translate(0,2922)"><use id="k56-1" href="#L" x="84"/><use id="k56-2" href="#L" x="136"/><use id="k56-3" href="#L" x="188"/><use id="k56-4" href="#L" x="240"/><use id="k56-5" href="#L" x="292"/><use id="k56-6" href="#L" x="344"/><use id="k56-7" href="#L" x="396"/><use id="k56-8" href="#L" x="448"/><use id="k56-9" href="#L" x="500"/></g>
<g id="row57" transform="translate(0,2974)"><use id="k57-1" href="#R" x="84"/><use id="k57-2" href="#R" x="136"/><use id="k57-3" href="#R" x="188"/><use id="k57-4" href="#R" x="240"/><use id="k57-5" href="#R" x="292" class="l"/><use id="k57-6" href="#R" x="344"/><use id="k57-7" href="#R" x="396"/><use id="k57-8" href="#R" x="448"/><use id="k57-9" href="#R" x="500"/></g>
<g id="row58" transform="translate(0,3026)"><use id="k58-1" href="#L" x="84"/><use id="k58-2" href="#L" x="136"/><use id="k58-3" href="#L" x="188"/><use id="k58-4" href="#L" x="240"/><use id="k58-5" href="#L" x="292"/><use id="k58-6" href="#L" x="344"/><use id="k58-7" href="#L" x="396"/><use id="k58-8" href="#L" x="448"/><use id="k58-9" href="#L" x="500"/></g>
<g id="row59" transform="translate(0,3078)"><use id="k59-1" href="#R" x="84"/><use id="k59-2" href="#R" x="136"/><use id="k59-3" href="#R" x="188"/><use id="k59-4" href="#R" x="240"/><use id="k59-5" href="#R" x="292" class="m"/><use id="k59-6" href="#R" x="344"/><use id="k59-7" href="#R" x="396"/><use id="k59-8" href="#R" x="448"/><use id="k59-9" href="#R" x="500"/></g>
<g id="row60" transform="translate(0,3130)"><use id="k60-1" href="#L" x="84"/><use id="k60-2" href="#L" x="136"/><use id="k60-3" href="#L" x="188"/><use id="k60-4" href="#L" x="240"/><use id="k60-5" href="#L" x="292"/><use id="k60-6" href="#L" x="344"/><use id="k60-7" href="#L" x="396"/><use id="k60-8" href="#L" x="448"/><use id="k60-9" href="#L" x="500"/></g>
<g id="row61" transform="translate(0,3182)"><use id="k61-1" href="#R" x="84"/><use id="k61-2" href="#R" x="136"/><use id="k61-3" href="#R" x="188"/><use id="k61-4" href="#R" x="240"/><use id="k61-5" href="#R" x="292" class="d"/><use id="k61-6" href="#R" x="344"/><use id="k61-7" href="#R" x="396"/><use id="k61-8" href="#R" x="448"/><use id="k61-9" href="#R" x="500"/></g>
<g id="row62" transform="translate(0,3234)"><use id="k62-1" href="#L" x="84"/><use id="k62-2" href="#L" x="136"/><use id="k62-3" href="#L" x="188"/><use id="k62-4" href="#L" x="240"/><use id="k62-5" href="#L" x="292"/><use id="k62-6" href="#L" x="344"/><use id="k62-7" href="#L" x="396"/><use id="k62-8" href="#L" x="448"/><use id="k62-9" href="#L" x="500"/></g>
<g id="row63" transform="translate(0,3286)"><use id="k63-1" href="#R" x="84"/><use id="k63-2" href="#R" x="136"/><use id="k63-3" href="#R" x="188"/><use id="k63-4" href="#R" x="240"/><use id="k63-5" href="#R" x="292"/><use id="k63-6" href="#R" x="344"/><use id="k63-7" href="#R" x="396"/><use id="k63-8" href="#R" x="448"/><use id="k63-9" href="#R" x="500"/></g>
<g id="row64" transform="translate(0,3338)"><use id="k64-1" href="#L" x="84"/><use id="k64-2" href="#L" x="136"/><use id="k64-3" href="#L" x="188"/><use id="k64-4" href="#L" x="240"/><use id="k64-5" href="#L" x="292"/><use id="k64-6" href="#L" x="344"/><use id="k64-7" href="#L" x="396"/><use id="k64-8" href="#L" x="448"/><use id="k64-9" href="#L" x="500"/></g>
<g id="row65" transform="translate(0,3390)"><use id="k65-1" href="#R" x="84"/><use id="k65-2" href="#R" x="136"/><use id="k65-3" href="#R" x="188"/><use id="k65-4" href="#R" x="240"/><use id="k65-5" href="#R" x="292"/><use id="k65-6" href="#R" x="344"/><use id="k65-7" href="#R" x="396"/><use id="k65-8" href="#R" x="448"/><use id="k65-9" href="#R" x="500"/></g>
<g id="row66" transform="translate(0,3442)"><use id="k66-1" href="#L" x="84"/><use id="k66-2" href="#L" x="136"/><use id="k66-3" href="#L" x="188"/><use id="k66-4" href="#L" x="240"/><use id="k66-5" href="#L" x="292"/><use id="k66-6" href="#L" x="344"/><use id="k66-7" href="#L" x="396"/><use id="k66-8" href="#L" x="448"/><use id="k66-9" href="#L" x="500"/></g>
<g id="row67" transform="translate(0,3494)"><use id="k67-1" href="#R" x="84"/><use id="k67-2" href="#R" x="136"/><use id="k67-3" href="#R" x="188"/><use id="k67-4" href="#R" x="240"/><use id="k67-5" href="#R" x="292"/><use id="k67-6" href="#R" x="344"/><use id="k67-7" href="#R" x="396"/><use id="k67-8" href="#R" x="448"/><use id="k67-9" href="#R" x="500"/></g>
<g id="row68" transform="translate(0,3546)"><use id="k68-1" href="#L" x="84"/><use id="k68-2" href="#L" x="136"/><use id="k68-3" href="#L" x="188"/><use id="k68-4" href="#L" x="240"/><use id="k68-5" href="#L" x="292"/><use id="k68-6" href="#L" x="344"/><use id="k68-7" href="#L" x="396"/><use id="k68-8" href="#L" x="448"/><use id="k68-9" href="#L" x="500"/></g>
<g id="row69" transform="translate(0,3598)"><use id="k69-1" href="#R" x="84"/><use id="k69-2" href="#R" x="136"/><use id="k69-3" href="#R" x="188"/><use id="k69-4" href="#R" x="240"/><use id="k69-5" href="#R" x="292"/><use id="k69-6" href="#R" x="344"/><use id="k69-7" href="#R" x="396"/><use id="k69-8" href="#R" x="448"/><use id="k69-9" href="#R" x="500"/></g>
<g id="row70" transform="translate(0,3650)"><use id="k70-1" href="#L" x="84"/><use id="k70-2" href="#L" x="136"/><use id="k70-3" href="#L" x="188"/><use id="k70-4" href="#L" x="240"/><use id="k70-5" href="#L" x="292"/><use id="k70-6" href="#L" x="344"/><use id="k70-7" href="#L" x="396"/><use id="k70-8" href="#L" x="448"/><use id="k70-9" href="#L" x="500"/></g>
<g id="row71" transform="translate(0,3702)"><use id="k71-1" href="#R" x="84"/><use id="k71-2" href="#R" x="136"/><use id="k71-3" href="#R" x="188"/><use id="k71-4" href="#R" x="240"/><use id="k71-5" href="#R" x="292"/><use id="k71-6" href="#R" x="344"/><use id="k71-7" href="#R" x="396"/><use id="k71-8" href="#R" x="448"/><use id="k71-9" href="#R" x="500"/></g>
</g>
<text id="watermark" x="292" y="1914" text-anchor="middle" font-family="'Liberation Sans',Arial,sans-serif" font-weight="bold" font-size="16" fill="#3a3a3a" textLength="153" lengthAdjust="spacingAndGlyphs">BRACELETBOOK.COM</text>
</svg>
